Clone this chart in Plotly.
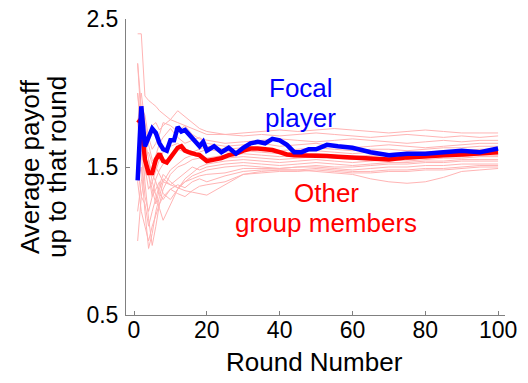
import plotly.graph_objects as go

# ---- data ----
rounds_main = [1,2,3,4,5,6,7,8,9,10,11,12,13,14,15,16,17,18,19,20,22,24,26,28,30,
               32,34,36,38,40,42,44,46,48,50,53,56,60,65,70,75,80,85,90,95,100]
focal = [1.41,1.91,1.64,1.70,1.76,1.73,1.66,1.62,1.61,1.68,1.68,1.77,1.74,1.75,1.72,
         1.70,1.66,1.64,1.67,1.61,1.64,1.60,1.63,1.59,1.63,1.66,1.67,1.66,1.69,1.68,
         1.65,1.60,1.60,1.62,1.62,1.65,1.64,1.63,1.60,1.58,1.59,1.59,1.60,1.61,1.60,1.625]
others_mean = [1.82,1.80,1.55,1.46,1.46,1.55,1.59,1.54,1.53,1.56,1.60,1.63,1.64,1.61,1.60,
               1.59,1.585,1.58,1.56,1.54,1.55,1.56,1.58,1.59,1.61,1.625,1.625,1.62,1.615,1.60,
               1.585,1.58,1.58,1.58,1.575,1.575,1.57,1.565,1.56,1.55,1.565,1.575,1.58,1.585,1.59,1.60]

rounds_members = [1,2,3,4,5,6,7,8,10,12,14,16,18,20,25,30,35,40,45,50,55,60,65,70,75,80,85,90,95,100]
member_A = [2.40,2.40,1.98,1.95,1.93,1.91,1.88,1.86,1.82,1.80,1.78,1.76,1.74,1.72,1.72,1.73,1.74,1.75,1.74,1.75,1.76,1.75,1.74,1.73,1.74,1.75,1.74,1.73,1.73,1.73]
member_B = [2.00,1.75,1.60,1.70,1.78,1.80,1.75,1.78,1.82,1.88,1.84,1.80,1.76,1.74,1.72,1.71,1.72,1.71,1.72,1.73,1.72,1.71,1.70,1.71,1.72,1.71,1.70,1.71,1.70,1.71]
member_C = [1.80,1.90,1.85,1.70,1.62,1.66,1.72,1.80,1.78,1.74,1.78,1.72,1.69,1.68,1.66,1.67,1.68,1.69,1.68,1.67,1.68,1.69,1.68,1.67,1.66,1.67,1.68,1.67,1.68,1.68]
member_D = [1.20,1.40,1.55,1.60,1.52,1.58,1.66,1.70,1.76,1.70,1.66,1.68,1.70,1.66,1.64,1.65,1.66,1.64,1.65,1.66,1.64,1.63,1.64,1.65,1.64,1.63,1.64,1.65,1.66,1.66]
member_E = [1.60,1.70,1.50,1.35,1.40,1.48,1.55,1.60,1.64,1.66,1.62,1.60,1.62,1.64,1.62,1.63,1.62,1.61,1.62,1.63,1.62,1.61,1.62,1.62,1.61,1.62,1.63,1.63,1.64,1.64]
member_F = [1.80,1.60,1.30,1.20,1.30,1.42,1.48,1.52,1.58,1.62,1.60,1.58,1.60,1.62,1.60,1.61,1.60,1.59,1.60,1.61,1.60,1.59,1.60,1.59,1.60,1.60,1.61,1.61,1.62,1.62]
member_G = [1.40,1.50,1.20,0.95,1.05,1.20,1.30,1.40,1.48,1.52,1.56,1.58,1.57,1.56,1.58,1.59,1.58,1.57,1.58,1.59,1.58,1.57,1.58,1.58,1.57,1.58,1.59,1.59,1.60,1.60]
member_H = [2.20,1.80,1.40,1.15,0.97,1.10,1.25,1.35,1.45,1.50,1.52,1.55,1.56,1.54,1.56,1.57,1.56,1.55,1.56,1.57,1.56,1.55,1.56,1.56,1.55,1.56,1.57,1.57,1.58,1.58]
member_I = [1.50,1.30,1.45,1.55,1.40,1.30,1.22,1.14,1.25,1.35,1.42,1.46,1.50,1.52,1.54,1.55,1.54,1.53,1.54,1.55,1.54,1.53,1.54,1.55,1.54,1.55,1.56,1.56,1.57,1.57]
member_J = [2.00,1.70,1.55,1.45,1.35,1.25,1.35,1.42,1.38,1.42,1.46,1.50,1.48,1.50,1.52,1.53,1.52,1.51,1.52,1.53,1.52,1.51,1.52,1.53,1.53,1.54,1.54,1.55,1.55,1.55]
member_K = [1.60,1.80,1.60,1.45,1.30,1.35,1.40,1.32,1.28,1.35,1.40,1.44,1.46,1.48,1.50,1.51,1.50,1.49,1.50,1.51,1.50,1.50,1.51,1.52,1.52,1.53,1.53,1.54,1.54,1.54]
member_L = [1.00,1.30,1.25,1.10,1.20,1.30,1.38,1.45,1.40,1.36,1.40,1.42,1.44,1.45,1.46,1.49,1.49,1.49,1.50,1.50,1.49,1.48,1.49,1.50,1.50,1.51,1.51,1.52,1.52,1.52]
member_M = [2.20,1.90,1.70,1.55,1.45,1.40,1.32,1.28,1.35,1.38,1.36,1.40,1.42,1.40,1.44,1.47,1.48,1.48,1.48,1.49,1.48,1.47,1.47,1.48,1.48,1.49,1.49,1.50,1.51,1.51]
member_N = [1.40,1.20,1.10,1.00,1.10,1.18,1.25,1.30,1.35,1.32,1.30,1.34,1.37,1.38,1.40,1.45,1.46,1.47,1.47,1.48,1.47,1.46,1.46,1.47,1.47,1.48,1.48,1.49,1.50,1.50]
member_O = [1.80,2.00,1.80,1.65,1.55,1.50,1.45,1.40,1.38,1.36,1.34,1.33,1.32,1.31,1.38,1.45,1.47,1.48,1.48,1.47,1.46,1.45,1.42,1.40,1.39,1.40,1.43,1.47,1.48,1.49]
members = [member_A, member_B, member_C, member_D, member_E, member_F, member_G, member_H,
           member_I, member_J, member_K, member_L, member_M, member_N, member_O]

x_ticks = [0, 20, 40, 60, 80, 100]
y_ticks = [0.5, 1.5, 2.5]

# ---- figure ----
fig = go.Figure()
for m in members:
    fig.add_trace(go.Scatter(x=rounds_members, y=m, mode="lines",
                             line=dict(color="#FFB4B4", width=1),
                             hoverinfo="skip", showlegend=False))
fig.add_trace(go.Scatter(x=rounds_main, y=others_mean, mode="lines",
                         line=dict(color="#FF0000", width=4.5), showlegend=False))
fig.add_trace(go.Scatter(x=rounds_main, y=focal, mode="lines",
                         line=dict(color="#0000FF", width=4.5), showlegend=False))

font_family = "Liberation Sans, Arial, Helvetica, sans-serif"
axis_common = dict(showgrid=False, zeroline=False, showline=True, linecolor="#808080",
                   linewidth=1, ticks="inside", ticklen=4, tickcolor="#808080",
                   automargin=False,
                   tickfont=dict(size=23, color="black", family=font_family))

W, H = 528, 383
l, r, t, b = 126, 23, 19, 68
pw, ph = W - l - r, H - t - b

def ann(text, px, py, color, size, angle=0):
    return dict(text=text, x=(px - l) / pw, y=1 - (py - t) / ph,
                xref="paper", yref="paper", xanchor="center", yanchor="middle",
                textangle=angle, showarrow=False,
                font=dict(size=size, color=color, family=font_family))

fig.update_layout(
    width=W, height=H,
    margin=dict(l=l, r=r, t=t, b=b, autoexpand=False),
    plot_bgcolor="white", paper_bgcolor="white",
    font=dict(family=font_family, color="black"),
    xaxis=dict(range=[-2.2, 101.9], tickvals=x_ticks, ticklabelstandoff=-6, **axis_common),
    yaxis=dict(range=[0.5, 2.5], tickvals=y_ticks, ticktext=["0.5", "1.5", "2.5"],
               ticklabelstandoff=2, **axis_common),
    annotations=[
        ann("Focal", 301, 88, "#0000FF", 26),
        ann("player", 300, 118, "#0000FF", 26),
        ann("Other", 326, 193, "#FF0000", 26),
        ann("group members", 326, 223, "#FF0000", 26),
        ann("Average payoff", 30, 167, "black", 26, -90),
        ann("up to that round", 57, 167, "black", 26, -90),
        ann("Round Number", 314, 362, "black", 26),
    ],
)

fig.write_html("out.html", config={"displayModeBar": False},
               post_script="document.body.style.margin='0';document.body.style.overflow='hidden';")
